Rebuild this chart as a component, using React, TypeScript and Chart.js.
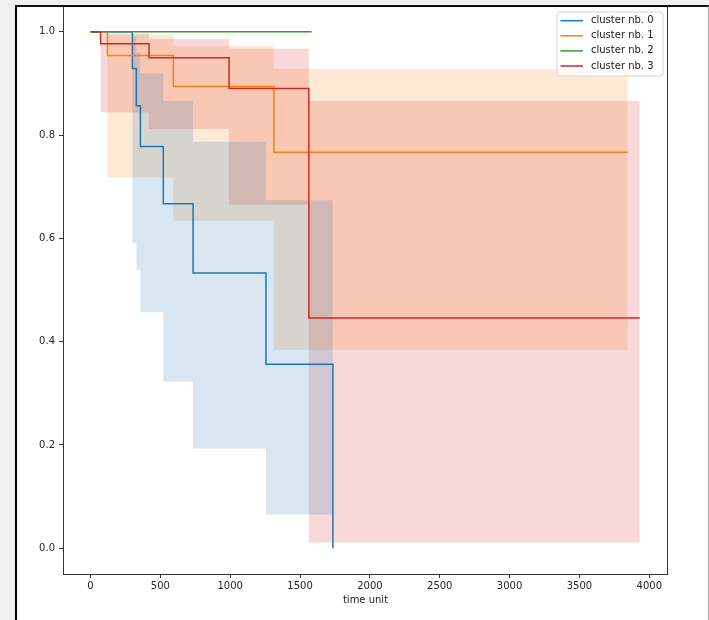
import React, { useEffect, useRef } from "react";
import { Chart, registerables } from "chart.js";

Chart.register(...registerables);

// ---- data ----
const seriesLabels = ["cluster nb. 0", "cluster nb. 1", "cluster nb. 2", "cluster nb. 3"];
const seriesColors = ["#1f77b4", "#ff7f0e", "#2ca02c", "#d62728"];

const c0Times = [0, 300, 328, 357, 521, 734, 1256, 1735];
const c0Surv = [1, 0.929, 0.857, 0.778, 0.667, 0.533, 0.356, 0];
const c0Upper = [1, 0.99, 0.96, 0.92, 0.866, 0.787, 0.674, 0.674];
const c0Lower = [1, 0.591, 0.539, 0.457, 0.323, 0.193, 0.065, 0.065];

const c1Times = [0, 121, 593, 1313, 3846];
const c1Surv = [1, 0.954, 0.894, 0.767, 0.767];
const c1Upper = [1, 0.994, 0.972, 0.928, 0.928];
const c1Lower = [1, 0.718, 0.634, 0.384, 0.384];

const c2Times = [0, 1583];
const c2Surv = [1, 1];

const c3Times = [0, 72, 419, 992, 1563, 3932];
const c3Surv = [1, 0.977, 0.95, 0.89, 0.446, 0.446];
const c3Upper = [1, 0.997, 0.986, 0.967, 0.866, 0.866];
const c3Lower = [1, 0.844, 0.812, 0.665, 0.011, 0.011];

const xTicks = [0, 500, 1000, 1500, 2000, 2500, 3000, 3500, 4000];
const yTicks = [0, 0.2, 0.4, 0.6, 0.8, 1.0];
const xTitle = "time unit";

const BAND_ALPHA = 0.18;

function pts(t: number[], v: number[]) {
  return t.map((x, i) => ({ x, y: v[i] }));
}
function rgba(hex: string, a: number) {
  const r = parseInt(hex.slice(1, 3), 16);
  const g = parseInt(hex.slice(3, 5), 16);
  const b = parseInt(hex.slice(5, 7), 16);
  return `rgba(${r},${g},${b},${a})`;
}

const frameAndLegend = {
  id: "frameAndLegend",
  afterDatasetsDraw(chart: any) {
    const { ctx, chartArea } = chart;
    ctx.save();
    // axes frame
    ctx.strokeStyle = "rgba(0,0,0,0.8)";
    ctx.lineWidth = 1;
    ctx.strokeRect(chartArea.left + 0.5, chartArea.top + 0.5, chartArea.right - chartArea.left - 1, chartArea.bottom - chartArea.top);
    // legend
    const w = 106;
    const h = 64;
    const lx = chartArea.right - 5 - w;
    const ly = chartArea.top + 6;
    const r = 3;
    ctx.beginPath();
    ctx.moveTo(lx + r, ly);
    ctx.lineTo(lx + w - r, ly);
    ctx.arcTo(lx + w, ly, lx + w, ly + r, r);
    ctx.lineTo(lx + w, ly + h - r);
    ctx.arcTo(lx + w, ly + h, lx + w - r, ly + h, r);
    ctx.lineTo(lx + r, ly + h);
    ctx.arcTo(lx, ly + h, lx, ly + h - r, r);
    ctx.lineTo(lx, ly + r);
    ctx.arcTo(lx, ly, lx + r, ly, r);
    ctx.closePath();
    ctx.fillStyle = "rgba(255,255,255,0.8)";
    ctx.fill();
    ctx.strokeStyle = "#d4d4d4";
    ctx.lineWidth = 1;
    ctx.stroke();
    ctx.font = "10px 'DejaVu Sans'";
    ctx.textBaseline = "middle";
    ctx.textAlign = "left";
    seriesLabels.forEach((lab, i) => {
      const yy = ly + 8.7 + i * 15.1;
      ctx.strokeStyle = seriesColors[i];
      ctx.lineWidth = 1.5;
      ctx.beginPath();
      ctx.moveTo(lx + 3.5, yy);
      ctx.lineTo(lx + 26, yy);
      ctx.stroke();
      ctx.fillStyle = "#1a1a1a";
      ctx.fillText(lab, lx + 34, yy);
    });
    ctx.restore();
  },
};

export default function App() {
  const ref = useRef<HTMLCanvasElement | null>(null);

  useEffect(() => {
    if (!ref.current) return;
    const band = (t: number[], up: number[], lo: number[], color: string, upIndex: number) => [
      {
        label: "_up",
        data: pts(t, up),
        borderWidth: 0,
        borderColor: "rgba(0,0,0,0)",
        pointRadius: 0,
        stepped: true,
        fill: false,
        order: 20,
      },
      {
        label: "_lo",
        data: pts(t, lo),
        borderWidth: 0,
        borderColor: "rgba(0,0,0,0)",
        backgroundColor: rgba(color, BAND_ALPHA),
        pointRadius: 0,
        stepped: true,
        fill: upIndex,
        order: 20,
      },
    ];
    const line = (t: number[], v: number[], i: number) => ({
      label: seriesLabels[i],
      data: pts(t, v),
      borderColor: seriesColors[i],
      backgroundColor: seriesColors[i],
      borderWidth: 1.5,
      pointRadius: 0,
      stepped: true,
      fill: false,
      order: 3 - i,
    });

    const datasets: any[] = [
      ...band(c0Times, c0Upper, c0Lower, seriesColors[0], 0),
      ...band(c1Times, c1Upper, c1Lower, seriesColors[1], 2),
      ...band(c3Times, c3Upper, c3Lower, seriesColors[3], 4),
      line(c0Times, c0Surv, 0),
      line(c1Times, c1Surv, 1),
      line(c2Times, c2Surv, 2),
      line(c3Times, c3Surv, 3),
    ];

    const tickFont = { family: "'DejaVu Sans'", size: 10 };
    const chart = new Chart(ref.current, {
      type: "line",
      data: { datasets },
      options: {
        animation: false,
        responsive: false,
        devicePixelRatio: 1,
        layout: { padding: { left: 0, top: 6, right: 41, bottom: 0 } },
        plugins: {
          legend: { display: false },
          tooltip: { enabled: false },
          filler: { drawTime: "beforeDatasetsDraw" },
        },
        scales: {
          x: {
            type: "linear",
            min: -197,
            max: 4134,
            afterBuildTicks: (s: any) => {
              s.ticks = xTicks.map((v) => ({ value: v }));
            },
            afterFit: (s: any) => {
              s.height = 46;
              s.paddingLeft = 0;
              s.paddingRight = 0;
            },
            ticks: {
              font: tickFont,
              color: "#262626",
              padding: 2,
              maxRotation: 0,
              autoSkip: false,
              callback: (v: any) => String(v),
            },
            grid: { drawOnChartArea: false, tickLength: 4, tickColor: "#333", tickWidth: 1 },
            border: { display: false },
            title: {
              display: true,
              text: xTitle,
              font: tickFont,
              color: "#1a1a1a",
              padding: { top: 0, bottom: 14 },
            },
          },
          y: {
            type: "linear",
            min: -0.05,
            max: 1.05,
            afterBuildTicks: (s: any) => {
              s.ticks = yTicks.map((v) => ({ value: v }));
            },
            afterFit: (s: any) => {
              s.width = 63;
              s.paddingTop = 0;
              s.paddingBottom = 0;
            },
            ticks: {
              font: tickFont,
              color: "#262626",
              padding: 4,
              autoSkip: false,
              callback: (v: any) => Number(v).toFixed(1),
            },
            grid: { drawOnChartArea: false, tickLength: 4, tickColor: "#333", tickWidth: 1 },
            border: { display: false },
          },
        },
      },
      plugins: [frameAndLegend],
    } as any);
    return () => chart.destroy();
  }, []);

  return (
    <div
      style={{
        position: "fixed",
        left: 0,
        top: 0,
        width: 709,
        height: 620,
        background: "#f0f0f0",
        overflow: "hidden",
      }}
    >
      <div
        style={{
          position: "absolute",
          left: 15,
          top: 5,
          width: 691,
          height: 640,
          background: "#ffffff",
          borderLeft: "2px solid #000",
          borderTop: "2px solid #111",
          borderRight: "1px solid #aaa",
        }}
      />
      <canvas
        ref={ref}
        width={709}
        height={620}
        style={{ position: "absolute", left: 0, top: 0, width: 709, height: 620 }}
      />
    </div>
  );
}
